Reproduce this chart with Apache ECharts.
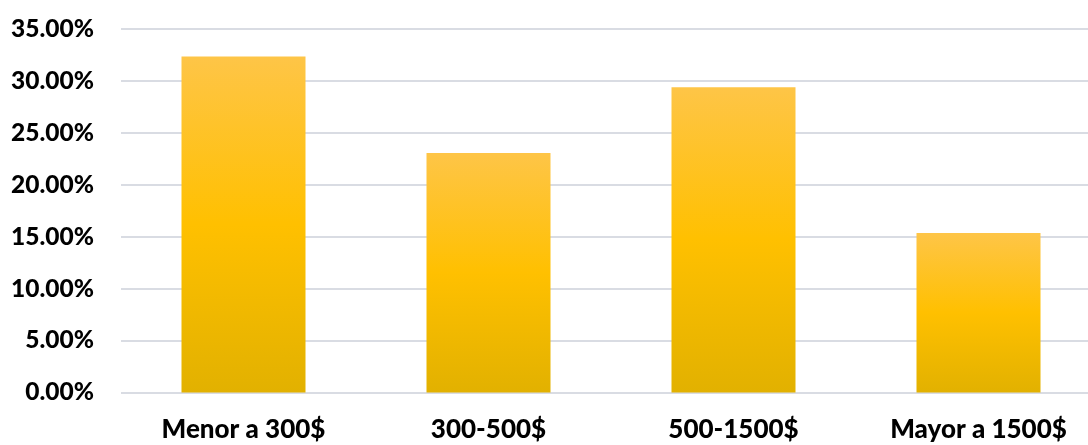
<!DOCTYPE html>
<html>
<head>
<meta charset="utf-8">
<script src="https://cdn.jsdelivr.net/npm/echarts@6/dist/echarts.min.js"></script>
<style>
  html, body { margin: 0; padding: 0; background: #ffffff; overflow: hidden; }
  /* the last category band runs a little past the right edge of the window */
  #chart { width: 1101px; height: 445px; }
</style>
</head>
<body>
<div id="chart"></div>
<script>
// Price ranges and the share of responses in each (percent)
const categories = ['Menor a 300$', '300-500$', '500-1500$', 'Mayor a 1500$'];
const shares = [32.35, 23.05, 29.4, 15.35];

const chart = echarts.init(document.getElementById('chart'));

const barFill = new echarts.graphic.LinearGradient(0, 0, 0, 1, [
  { offset: 0, color: '#FEC547' },
  { offset: 0.5, color: '#FFC000' },
  { offset: 1, color: '#E2B100' }
]);

chart.setOption({
  animation: false,
  backgroundColor: '#ffffff',
  grid: { left: 121, right: 0, top: 29, bottom: 52.5, containLabel: false },
  xAxis: {
    type: 'category',
    data: categories,
    axisLine: { show: false },
    axisTick: { show: false },
    axisLabel: {
      margin: 24,
      color: '#000000',
      fontFamily: 'Lato',
      fontWeight: 900,
      fontSize: 26
    }
  },
  yAxis: {
    type: 'value',
    min: 0,
    max: 35,
    interval: 5,
    axisLine: { show: false },
    axisTick: { show: false },
    splitLine: { lineStyle: { color: '#D9DCE3', width: 2 } },
    axisLabel: {
      margin: 27,
      color: '#000000',
      fontFamily: 'Lato',
      fontWeight: 900,
      fontSize: 24.5,
      formatter: v => v.toFixed(2) + '%'
    }
  },
  series: [{
    type: 'bar',
    data: shares,
    barWidth: 124,
    itemStyle: { color: barFill }
  }]
});
</script>
</body>
</html>
